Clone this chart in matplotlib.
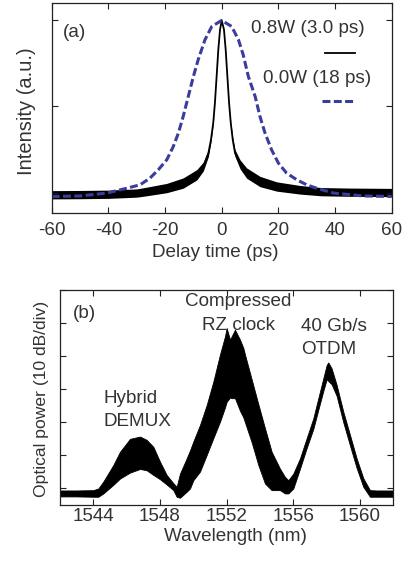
import matplotlib
matplotlib.use("Agg")
import matplotlib.pyplot as plt

plt.rcParams['font.family'] = ['Liberation Sans', 'DejaVu Sans']
plt.rcParams['axes.unicode_minus'] = False

TXT = "#333333"
FS = 13.6

# (a) autocorrelation traces
t_slow = [-60, -50, -40.5, -33.5, -28.8, -25.3, -22.4, -19.4, -17.1, -15.3, -13.6,
          -11.8, -10.0, -8.3, -5.9, -3.5, 0, 3.5, 5.9, 7.6, 9.4, 11.8, 13.5, 15.3,
          17.6, 20.0, 22.9, 26.5, 30.0, 33.5, 39.4, 50, 60]
i_slow = [-0.023, -0.02, -0.003, 0.025, 0.045, 0.084, 0.132, 0.19, 0.267, 0.345, 0.442,
          0.558, 0.674, 0.772, 0.888, 0.965, 1.0, 0.965, 0.888, 0.799, 0.674, 0.558, 0.442,
          0.345, 0.248, 0.171, 0.113, 0.074, 0.045, 0.025, -0.003, -0.02, -0.023]

t_fast = [-60, -50, -40, -30, -26.5, -19.4, -13.6, -8.8, -6.5, -4.7, -3.8, -3.0, -2.4,
          -1.8, -1.2, -0.6, 0, 0.8, 1.4, 2.0, 2.6, 3.2, 3.9, 4.7, 6.5, 8.8, 13.5, 19.4,
          27.6, 35, 45, 60]
i_fast = [-0.013, -0.012, -0.01, -0.003, 0.006, 0.026, 0.055, 0.103, 0.151, 0.229, 0.306,
          0.403, 0.52, 0.674, 0.83, 0.946, 1.0, 0.946, 0.83, 0.674, 0.52, 0.403, 0.306,
          0.229, 0.163, 0.113, 0.064, 0.035, 0.016, 0.005, 0.002, 0.0]
# half width of the noise band around the fast trace
n_fast = [0.024, 0.024, 0.024, 0.024, 0.025, 0.027, 0.03, 0.03, 0.026, 0.02, 0.012, 0.005, 0,
          0, 0, 0, 0, 0, 0, 0, 0, 0.005, 0.012, 0.02, 0.026, 0.03, 0.03, 0.027,
          0.025, 0.024, 0.024, 0.024]

# (b) optical spectrum, upper / lower envelope of the trace
wl = [1542.0, 1543.0, 1544.0, 1544.3, 1544.6, 1545.2, 1545.6, 1546.2, 1546.8, 1547.2,
      1547.6, 1548.0, 1548.4, 1548.8, 1549.0, 1549.2, 1549.6, 1549.8, 1550.0, 1550.4,
      1550.8, 1551.2, 1551.6, 1551.9, 1552.0, 1552.2, 1552.3, 1552.5, 1552.8, 1553.0,
      1553.1, 1553.5, 1553.9, 1554.3, 1554.7, 1555.2, 1555.5, 1555.7, 1556.0, 1556.4,
      1556.8, 1557.2, 1557.5, 1557.8, 1558.0, 1558.1, 1558.3, 1558.6, 1559.0, 1559.4,
      1559.8, 1560.2, 1560.6, 1561.0, 1562.0]
p_top = [-70.6, -70.6, -70.5, -70.0, -67.9, -62.9, -58.9, -55.0, -54.3, -55.3,
         -57.4, -61.9, -65.9, -68.4, -69.5, -65.5, -60.9, -58.5, -55.8, -50.8,
         -44.8, -37.7, -29.5, -24.0, -21.5, -25.0, -24.0, -22.0, -25.0, -27.5,
         -29.5, -37.0, -44.5, -51.8, -58.9, -64.0, -66.5, -67.5, -65.5, -60.9,
         -54.8, -48.8, -42.7, -36.7, -32.7, -31.9, -33.7, -38.7, -46.8, -53.8,
         -60.9, -66.9, -70.5, -70.6, -70.6]
p_bot = [-72.4, -72.4, -72.5, -72.5, -71.5, -68.9, -67.0, -65.2, -64.1, -64.5,
         -65.9, -67.2, -68.8, -70.5, -72.5, -72.8, -71.0, -70.0, -67.5, -64.9,
         -59.9, -54.8, -49.8, -45.5, -43.8, -42.5, -42.7, -42.7, -46.5, -48.5,
         -50.0, -56.0, -62.9, -68.5, -70.5, -70.5, -71.5, -71.5, -70.0, -64.0,
         -57.8, -52.0, -46.2, -40.5, -37.0, -37.5, -38.5, -42.0, -50.0, -57.0,
         -63.8, -69.5, -72.5, -72.5, -72.5]


def style(ax, pad):
    ax.tick_params(direction="in", top=True, right=True, length=4, width=0.8,
                   colors="#222222", labelcolor=TXT, labelsize=FS, pad=pad)
    for s in ax.spines.values():
        s.set_linewidth(0.9)
        s.set_color("#222222")


fig = plt.figure(figsize=(4.04, 5.61), dpi=100)

ax1 = fig.add_axes([0.128, 0.620, 0.8416, 0.3743])
ax1.fill_between(t_fast, [a - b for a, b in zip(i_fast, n_fast)],
                 [a + b for a, b in zip(i_fast, n_fast)], color="black", lw=0)
ax1.plot(t_fast, i_fast, color="black", lw=1.3)
ax1.plot(t_slow, i_slow, color="#3a3d9c", lw=2.2, ls=(0, (2.6, 1.1)))
ax1.plot([36.5, 47.0], [0.81, 0.81], color="black", lw=1.3)
ax1.plot([35.3, 46.4], [0.529, 0.529], color="#3a3d9c", lw=2.2, ls=(0, (2.6, 1.1)))
ax1.text(30.5, 0.952, "0.8W (3.0 ps)", ha="center", va="center", fontsize=FS, color=TXT)
ax1.text(33.5, 0.665, "0.0W (18 ps)", ha="center", va="center", fontsize=FS, color=TXT)
ax1.text(-56, 0.927, "(a)", ha="left", va="center", fontsize=FS, color=TXT)
ax1.set_xlim(-60, 60)
ax1.set_ylim(-0.12, 1.10)
ax1.set_xticks([-60, -40, -20, 0, 20, 40, 60])
ax1.set_yticks([0, 0.5, 1.0])
ax1.set_yticklabels([])
ax1.set_xlabel("Delay time (ps)", fontsize=FS, color=TXT, va="center")
ax1.xaxis.set_label_coords(0.48, -0.189)
ax1.set_ylabel("Intensity (a.u.)", fontsize=14.5, color=TXT, va="center")
ax1.yaxis.set_label_coords(-0.073, 0.484)
style(ax1, 6)

ax2 = fig.add_axes([0.1485, 0.0998, 0.825, 0.3832])
ax2.fill_between(wl, p_bot, p_top, color="black", lw=0.6, edgecolor="black")
ax2.text(1542.8, -17.0, "(b)", ha="left", va="center", fontsize=FS, color=TXT)
ax2.text(1552.7, -13.5, "Compressed", ha="center", va="center", fontsize=FS, color=TXT)
ax2.text(1552.7, -20.6, "RZ clock", ha="center", va="center", fontsize=FS, color=TXT)
ax2.text(1544.6, -42.7, "Hybrid", ha="left", va="center", fontsize=FS, color=TXT)
ax2.text(1544.6, -49.8, "DEMUX", ha="left", va="center", fontsize=FS, color=TXT)
ax2.text(1556.45, -21.1, "40 Gb/s", ha="left", va="center", fontsize=FS, color=TXT)
ax2.text(1556.45, -28.1, "OTDM", ha="left", va="center", fontsize=FS, color=TXT)
ax2.set_xlim(1542, 1562)
ax2.set_ylim(-75, -10)
ax2.set_xticks([1544, 1548, 1552, 1556, 1560])
ax2.set_yticks([-70, -60, -50, -40, -30, -20, -10])
ax2.set_yticklabels([])
ax2.set_xlabel("Wavelength (nm)", fontsize=FS, color=TXT, va="center")
ax2.xaxis.set_label_coords(0.525, -0.147)
ax2.set_ylabel("Optical power (10 dB/div)", fontsize=12.6, color=TXT, va="center")
ax2.yaxis.set_label_coords(-0.055, 0.496)
style(ax2, 2.5)

fig.savefig("out.png", dpi=100)
